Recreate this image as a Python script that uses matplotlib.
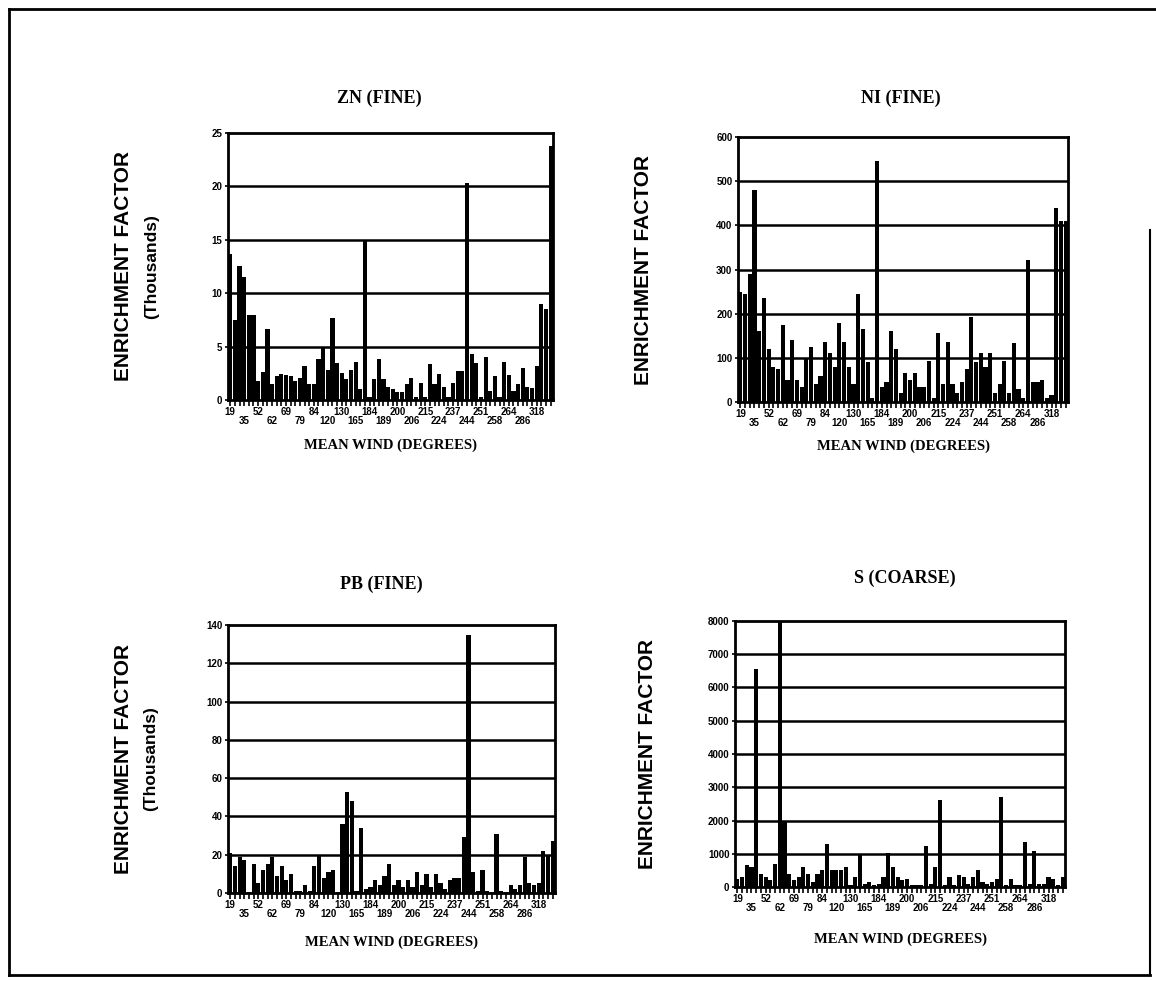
import numpy as np
import matplotlib
matplotlib.use('Agg')
import matplotlib.pyplot as plt
from matplotlib.lines import Line2D

# wind direction labels (every third bar carries one)
wind_labels = ['19', '35', '52', '62', '69', '79', '84', '120', '130', '165', '184', '189',
               '200', '206', '215', '224', '237', '244', '251', '258', '264', '286', '318']

zn_fine = [13.7, 7.5, 12.5, 11.5, 8.0, 8.0, 1.8, 2.6, 6.6, 1.5,
           2.2, 2.4, 2.3, 2.2, 1.8, 2.1, 3.2, 1.5, 1.5, 3.8,
           5.0, 2.8, 7.7, 3.5, 2.5, 2.0, 2.8, 3.6, 1.0, 15.0,
           0.3, 2.0, 3.8, 2.0, 1.2, 1.0, 0.7, 0.7, 1.5, 2.1,
           0.3, 1.6, 0.3, 3.4, 1.5, 2.4, 1.2, 0.3, 1.6, 2.7,
           2.7, 20.3, 4.3, 3.5, 0.3, 4.0, 0.8, 2.2, 0.3, 3.6,
           2.3, 0.8, 1.5, 3.0, 1.2, 1.1, 3.2, 9.0, 8.5, 23.8]

ni_fine = [250, 245, 290, 480, 160, 235, 120, 80, 75, 175,
           50, 140, 50, 35, 100, 125, 40, 60, 135, 110,
           80, 180, 135, 80, 40, 245, 165, 90, 10, 545,
           35, 45, 160, 120, 20, 65, 50, 65, 35, 35,
           94, 10, 156, 40, 137, 40, 20, 45, 75, 193,
           90, 110, 80, 110, 20, 40, 92, 20, 134, 30,
           10, 322, 45, 45, 50, 10, 15, 440, 410, 410]

pb_fine = [21, 14, 19, 17, 0.5, 15, 5, 12, 15, 19,
           9, 14, 7, 10, 1, 1, 4, 1, 14, 20,
           8, 11, 12, 0.5, 36, 53, 48, 1, 34, 2,
           3, 7, 4, 9, 15, 4, 7, 3, 7, 3,
           11, 4, 10, 3, 10, 5, 2, 7, 8, 8,
           29, 135, 11, 1, 12, 1, 0.5, 31, 1, 0.5,
           4, 2, 4, 19, 5, 4, 5, 22, 20, 27]

s_coarse = [250, 300, 650, 600, 6550, 400, 300, 200, 700, 8000,
            2000, 400, 200, 300, 600, 400, 150, 400, 500, 1300,
            500, 500, 500, 600, 50, 300, 950, 100, 150, 50,
            100, 300, 1030, 600, 300, 200, 250, 50, 50, 50,
            1230, 100, 600, 2630, 50, 300, 50, 350, 300, 100,
            300, 500, 150, 100, 150, 250, 2720, 50, 250, 50,
            50, 1350, 100, 1080, 100, 100, 300, 250, 50, 300]

serif = 'Liberation Serif'
sans = 'Liberation Sans'
W, H = 1156, 981

fig = plt.figure(figsize=(11.56, 9.81), dpi=100)

# title, values, y max, y step, thousands?, axes rect, title xy (px), ylabel x (axes frac), xlabel pad
panels = [
    ('ZN (FINE)', zn_fine, 25, 5, True, [0.1972, 0.5923, 0.2811, 0.2722], (379, 98), -0.32, 9),
    ('NI (FINE)', ni_fine, 600, 100, False, [0.6384, 0.5902, 0.2855, 0.2701], (901, 98), -0.285, 8),
    ('PB (FINE)', pb_fine, 140, 20, True, [0.1972, 0.0897, 0.2829, 0.2732], (381, 584), -0.32, 12),
    ('S (COARSE)', s_coarse, 8000, 1000, False, [0.6358, 0.0958, 0.2855, 0.2712], (905, 578), -0.265, 14),
]

for title, vals, ymax, ystep, thousands, rect, tpos, ylx, xpad in panels:
    ax = fig.add_axes(rect)
    x = np.arange(len(vals))
    ax.bar(x, vals, width=0.9, color='black', zorder=3)
    ax.set_xlim(-0.5, len(vals) - 0.5)
    ax.set_ylim(0, ymax)

    yt = np.arange(0, ymax + ystep, ystep)
    ax.set_yticks(yt)
    ax.set_yticklabels([str(int(v)) for v in yt], fontsize=7, fontweight='bold', family=sans)
    for v in yt[1:-1]:
        ax.axhline(v, color='black', lw=1.8, zorder=1)

    # small tick under every bar, staggered labels every third bar
    ax.set_xticks(x, minor=True)
    pos = np.arange(len(wind_labels)) * 3
    ax.set_xticks(pos)
    ax.set_xticklabels(wind_labels, fontsize=7, fontweight='bold', family=sans)
    ax.tick_params(axis='x', which='both', direction='out', length=4, width=1.2, pad=1)
    ax.tick_params(axis='y', direction='out', length=2, width=1.2, pad=2)
    for t in ax.xaxis.get_major_ticks()[1::2]:
        t.set_pad(7.5)

    for sp in ax.spines.values():
        sp.set_linewidth(2)

    ax.set_xlabel('MEAN WIND (DEGREES)', fontsize=10.5, fontweight='bold', family=serif, labelpad=xpad)
    fig.text(tpos[0] / W, 1 - tpos[1] / H, title, fontsize=13, fontweight='bold',
             family=serif, ha='center', va='center')

    ax.text(ylx, 0.5, 'ENRICHMENT FACTOR', transform=ax.transAxes, rotation=90,
            fontsize=15, fontweight='bold', family=sans, ha='center', va='center')
    if thousands:
        ax.text(ylx + 0.085, 0.5, '(Thousands)', transform=ax.transAxes, rotation=90,
                fontsize=12.5, fontweight='bold', family=sans, ha='center', va='center')

# scanned page frame
fig.add_artist(Line2D([9 / W, 1.0], [1 - 9 / H, 1 - 9 / H], color='black', lw=2))
fig.add_artist(Line2D([9 / W, 9 / W], [1 - 9 / H, 1 - 975 / H], color='black', lw=2))
fig.add_artist(Line2D([9 / W, 1150 / W], [1 - 975 / H, 1 - 975 / H], color='black', lw=2))
fig.add_artist(Line2D([1150 / W, 1150 / W], [1 - 975 / H, 1 - 230 / H], color='black', lw=1.5))

fig.savefig('out.png', dpi=100)
